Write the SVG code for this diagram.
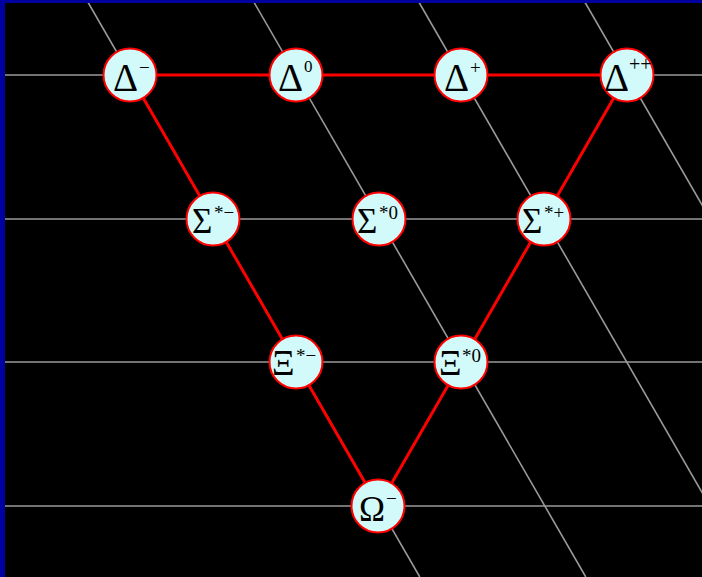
<svg xmlns="http://www.w3.org/2000/svg" width="702" height="577" viewBox="0 0 702 577">
<style>
.grid{stroke:#9a9a9a;stroke-width:1.6;fill:none}
.edge{stroke:#ff0000;stroke-width:3;fill:none}
.node circle{fill:#d2fafa;stroke:#ff0000;stroke-width:2}
.big{font-family:"Liberation Serif","Times New Roman",serif;font-size:35px;fill:#000}
.delta{font-size:39px}
.sup{font-family:"Liberation Serif","Times New Roman",serif;font-size:19px;fill:#000}
</style>
<rect width="702" height="577" fill="#000"/>
<g id="grid" class="grid">
<line x1="0" y1="75" x2="702" y2="75"/>
<line x1="0" y1="219" x2="702" y2="219"/>
<line x1="0" y1="362" x2="702" y2="362"/>
<line x1="0" y1="506" x2="702" y2="506"/>
<line x1="86.7" y1="0" x2="419.8" y2="577"/>
<line x1="252.7" y1="0" x2="585.8" y2="577"/>
<line x1="417.7" y1="0" x2="750.8" y2="577"/>
<line x1="583.7" y1="0" x2="916.8" y2="577"/>
</g>
<g id="connectors" class="edge">
<line x1="130" y1="75" x2="627" y2="75"/>
<line x1="130" y1="75" x2="378.5" y2="506"/>
<line x1="627" y1="75" x2="378.5" y2="506"/>
</g>
<g id="delta-minus" class="node"><circle cx="130" cy="75" r="26.5"/><text class="big delta" x="113" y="91">Δ</text><text class="sup" x="139" y="74">−</text></g>
<g id="delta-0" class="node"><circle cx="296" cy="75" r="26.5"/><text class="big delta" x="278" y="91">Δ</text><text class="sup" x="304" y="72" style="font-size:17px">0</text></g>
<g id="delta-plus" class="node"><circle cx="461" cy="75" r="26.5"/><text class="big delta" x="444" y="91">Δ</text><text class="sup" x="470" y="74">+</text></g>
<g id="delta-plusplus" class="node"><circle cx="627" cy="75" r="26.5"/><text class="big delta" x="604" y="91">Δ</text><text class="sup" x="629" y="71" style="font-size:20px">++</text></g>
<g id="sigma-minus" class="node"><circle cx="213" cy="219" r="26.5"/><text class="big" x="192" y="233">Σ</text><text class="sup" x="214" y="219">*−</text></g>
<g id="sigma-0" class="node"><circle cx="379" cy="219" r="26.5"/><text class="big" x="357" y="233">Σ</text><text class="sup" x="379" y="219">*0</text></g>
<g id="sigma-plus" class="node"><circle cx="544" cy="219" r="26.5"/><text class="big" x="522" y="233">Σ</text><text class="sup" x="544" y="219">*+</text></g>
<g id="xi-minus" class="node"><circle cx="296" cy="362" r="26.5"/><text class="big" x="272" y="375">Ξ</text><text class="sup" x="296" y="362">*−</text></g>
<g id="xi-0" class="node"><circle cx="461" cy="362" r="26.5"/><text class="big" x="439" y="375">Ξ</text><text class="sup" x="462" y="362">*0</text></g>
<g id="omega-minus" class="node"><circle cx="378" cy="506" r="26.5"/><text class="big" x="359" y="521">Ω</text><text class="sup" x="386" y="505">−</text></g>
<rect x="0" y="0" width="702" height="3" fill="#0000a0"/>
<rect x="0" y="0" width="5" height="577" fill="#0000a0"/>
</svg>
